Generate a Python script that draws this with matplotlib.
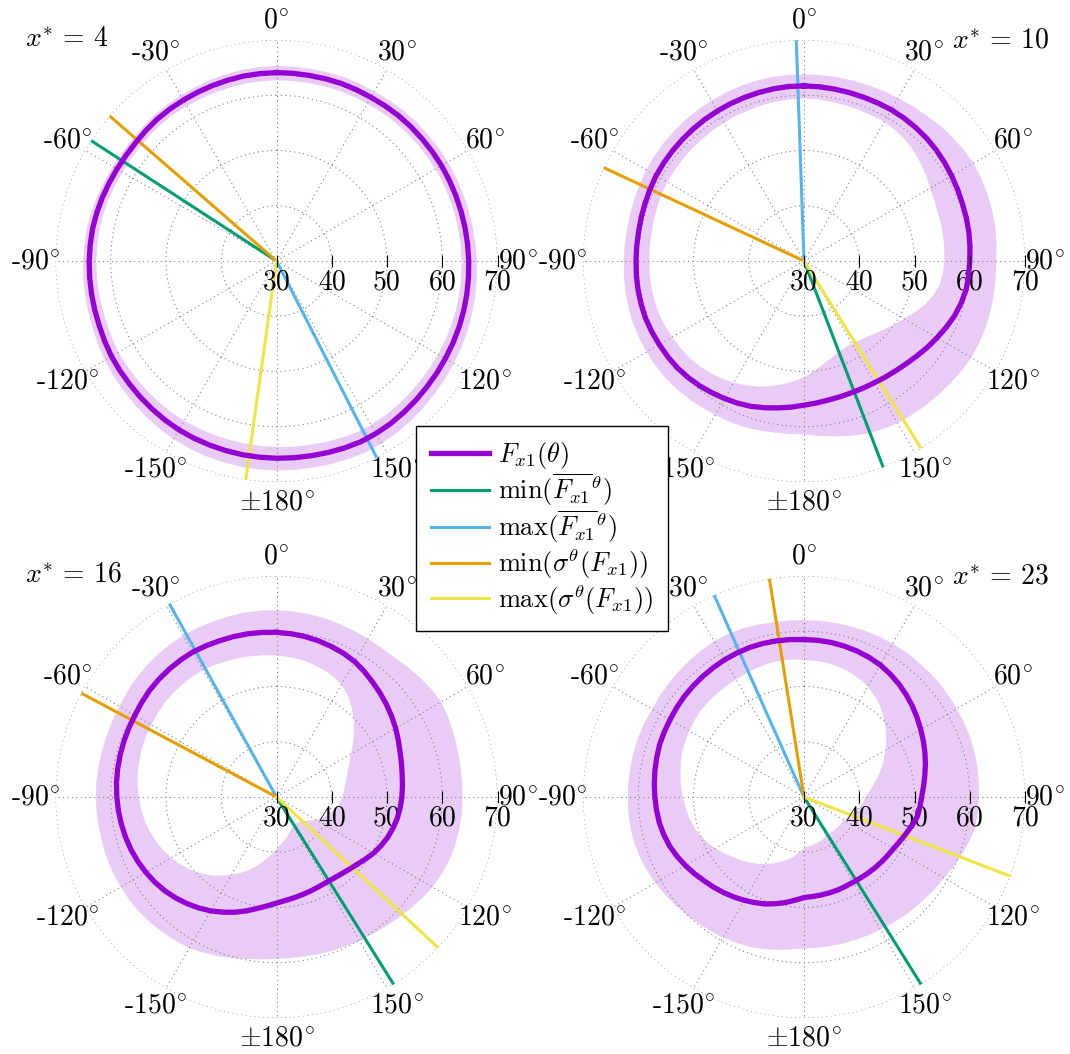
import numpy as np
import matplotlib
matplotlib.use('Agg')
import matplotlib.pyplot as plt
from matplotlib.lines import Line2D

plt.rcParams['font.family'] = ['cmr10', 'DejaVu Serif']
plt.rcParams['mathtext.fontset'] = 'cm'
plt.rcParams['axes.unicode_minus'] = False
plt.rcParams['font.size'] = 20

# angle grid (deg, clockwise from north), 5 deg steps
theta_deg = np.arange(0, 360, 5)

x_star = [4, 10, 16, 23]

# F_x1(theta) mean and std, one pair per x*
mean_x4 = [64.1, 64.1, 64.1, 64.15, 64.2, 64.2, 64.2, 64.27, 64.35, 64.38, 64.4, 64.45,
           64.5, 64.52, 64.55, 64.6, 64.65, 64.72, 64.8, 64.88, 64.97, 65.06, 65.15, 65.22,
           65.3, 65.4, 65.5, 65.65, 65.8, 65.95, 66.05, 66.1, 66.0, 65.9, 65.8, 65.75,
           65.7, 65.65, 65.6, 65.52, 65.45, 65.38, 65.3, 65.15, 65.0, 64.85, 64.7, 64.6,
           64.5, 64.32, 64.15, 64.07, 64.0, 63.95, 63.9, 63.85, 63.8, 63.68, 63.55, 63.42,
           63.32, 63.28, 63.3, 63.42, 63.55, 63.6, 63.65, 63.72, 63.8, 63.9, 64.0, 64.05]
std_x4 = [1.3, 1.3, 1.3, 1.3, 1.3, 1.3, 1.3, 1.3, 1.3, 1.3, 1.3, 1.3,
          1.3, 1.3, 1.3, 1.3, 1.32, 1.35, 1.38, 1.42, 1.46, 1.5, 1.55, 1.6,
          1.65, 1.7, 1.75, 1.8, 1.85, 1.9, 1.94, 1.98, 2.02, 2.05, 2.08, 2.1,
          2.12, 2.13, 2.13, 2.1, 2.06, 2.0, 1.93, 1.85, 1.77, 1.68, 1.6, 1.52,
          1.45, 1.4, 1.35, 1.3, 1.26, 1.22, 1.2, 1.17, 1.14, 1.1, 1.07, 1.04,
          1.02, 1.0, 0.99, 1.0, 1.03, 1.07, 1.12, 1.17, 1.22, 1.26, 1.28, 1.3]

mean_x10 = [61.7, 61.65, 61.6, 61.57, 61.55, 61.57, 61.6, 61.57, 61.5, 61.4, 61.25, 61.05,
            60.85, 60.67, 60.5, 60.4, 60.3, 60.15, 60.0, 59.93, 59.8, 59.45, 59.0, 58.4,
            57.8, 57.25, 56.7, 56.25, 55.9, 55.65, 55.45, 55.37, 55.35, 55.42, 55.55, 55.8,
            56.1, 56.55, 57.0, 57.5, 58.0, 58.4, 58.75, 59.1, 59.45, 59.75, 60.0, 60.13,
            60.25, 60.38, 60.5, 60.5, 60.5, 60.45, 60.4, 60.4, 60.4, 60.5, 60.6, 60.75,
            60.9, 60.98, 61.05, 61.12, 61.2, 61.28, 61.35, 61.43, 61.5, 61.58, 61.65, 61.7]
std_x10 = [2.2, 2.2, 2.3, 2.35, 2.4, 2.45, 2.5, 2.7, 2.95, 3.35, 3.75, 4.15,
           4.55, 4.7, 4.8, 4.8, 4.8, 4.75, 4.7, 4.8, 5.0, 5.4, 5.9, 6.5,
           7.05, 7.4, 7.7, 7.95, 8.15, 8.25, 8.3, 8.1, 7.8, 7.25, 6.6, 5.9,
           5.2, 4.8, 4.45, 4.15, 3.9, 3.65, 3.4, 3.2, 3.05, 2.95, 2.85, 2.78,
           2.7, 2.6, 2.5, 2.45, 2.4, 2.35, 2.3, 2.28, 2.25, 2.22, 2.2, 2.2,
           2.22, 2.25, 2.27, 2.28, 2.3, 2.3, 2.3, 2.3, 2.3, 2.28, 2.25, 2.22]

mean_x16 = [59.8, 59.67, 59.5, 59.27, 59.0, 58.7, 58.3, 57.72, 57.1, 56.55, 56.0, 55.45,
            54.9, 54.33, 53.8, 53.42, 53.1, 52.88, 52.7, 52.47, 52.2, 51.83, 51.4, 50.87,
            50.3, 49.62, 49.0, 48.55, 48.2, 47.98, 47.9, 47.95, 48.1, 48.28, 48.5, 48.8,
            49.2, 49.8, 50.5, 51.35, 52.2, 53.0, 53.8, 54.52, 55.2, 55.82, 56.4, 56.88,
            57.3, 57.67, 58.0, 58.27, 58.5, 58.72, 58.9, 59.07, 59.2, 59.3, 59.4, 59.5,
            59.6, 59.8, 60.0, 60.12, 60.2, 60.27, 60.3, 60.2, 60.1, 60.05, 60.0, 59.9]
std_x16 = [4.1, 4.15, 4.2, 4.3, 4.4, 4.55, 4.8, 5.3, 6.0, 6.9, 7.8, 8.7,
           9.5, 9.9, 10.2, 10.4, 10.6, 10.75, 10.9, 11.1, 11.3, 11.55, 11.8, 12.0,
           12.2, 12.32, 12.4, 12.38, 12.3, 12.17, 12.0, 11.72, 11.4, 11.05, 10.7, 10.35,
           10.0, 9.6, 9.2, 8.8, 8.4, 8.05, 7.7, 7.25, 6.8, 6.4, 6.0, 5.65,
           5.3, 5.0, 4.7, 4.45, 4.2, 4.05, 3.9, 3.75, 3.6, 3.5, 3.4, 3.37,
           3.35, 3.37, 3.4, 3.45, 3.5, 3.55, 3.6, 3.7, 3.8, 3.9, 4.0, 4.05]

mean_x23 = [58.5, 58.47, 58.4, 58.27, 58.1, 57.88, 57.6, 57.18, 56.7, 56.17, 55.6, 55.0,
            54.4, 53.85, 53.3, 52.75, 52.2, 51.72, 51.3, 51.05, 50.8, 50.2, 49.6, 49.1,
            48.7, 48.48, 48.3, 48.13, 48.0, 47.88, 47.8, 47.83, 47.9, 47.95, 48.0, 48.08,
            48.2, 48.75, 49.4, 50.0, 50.6, 51.1, 51.6, 52.1, 52.6, 53.1, 53.6, 54.2,
            54.8, 55.37, 55.9, 56.28, 56.6, 56.8, 57.0, 57.2, 57.4, 57.6, 57.8, 57.9,
            58.0, 58.15, 58.3, 58.4, 58.5, 58.6, 58.7, 58.75, 58.8, 58.77, 58.7, 58.6]
std_x23 = [3.6, 3.65, 3.7, 3.85, 4.0, 4.25, 4.5, 4.9, 5.3, 5.85, 6.4, 6.95,
           7.5, 8.05, 8.6, 9.1, 9.6, 9.95, 10.3, 10.45, 10.6, 10.65, 10.7, 10.6,
           10.5, 10.35, 10.2, 10.1, 10.0, 9.9, 9.8, 9.65, 9.5, 9.4, 9.3, 9.2,
           9.1, 8.85, 8.6, 8.4, 8.2, 7.95, 7.7, 7.45, 7.2, 7.0, 6.8, 6.55,
           6.3, 6.05, 5.8, 5.6, 5.4, 5.2, 5.0, 4.8, 4.6, 4.4, 4.2, 4.05,
           3.9, 3.85, 3.8, 3.85, 3.9, 3.95, 4.0, 3.9, 3.8, 3.65, 3.5, 3.55]

# angles (deg) of the extremes, one per x*
min_mean_deg = [-57, 159, 148, 148]
max_mean_deg = [153, -2, -29, -24]
min_std_deg = [-49, -65, -62, -9]
max_std_deg = [-172, 148, 133, 111]

theta_ticks = [0, 30, 60, 90, 120, 150, 180, 210, 240, 270, 300, 330]
theta_labels = [r'$0^{\!\circ}$', r'$30^{\!\circ}$', r'$60^{\!\circ}$', r'$90^{\!\circ}$',
                r'$120^{\!\circ}$', r'$150^{\!\circ}$', r'$\pm180^{\!\circ}$',
                r'-$150^{\!\circ}$', r'-$120^{\!\circ}$', r'-$90^{\!\circ}$',
                r'-$60^{\!\circ}$', r'-$30^{\!\circ}$']
r_ticks = [30, 40, 50, 60, 70]

means = [mean_x4, mean_x10, mean_x16, mean_x23]
stds = [std_x4, std_x10, std_x16, std_x23]

purple = '#9400D3'
c_min_mean = '#009E73'
c_max_mean = '#56B4E9'
c_min_std = '#E69F00'
c_max_std = '#F0E442'

W, H = 1070, 1054
fig = plt.figure(figsize=(W / 100, H / 100), dpi=100)

centers = [(276.5, 261), (804, 261), (276.5, 797), (804, 797)]
rad = 221

th = np.deg2rad(np.append(theta_deg, 360))
for i in range(4):
    cx, cy = centers[i]
    ax = fig.add_axes([(cx - rad) / W, 1 - (cy + rad) / H, 2 * rad / W, 2 * rad / H],
                      projection='polar')
    ax.set_theta_zero_location('N')
    ax.set_theta_direction(-1)

    m = np.append(means[i], means[i][0])
    s = np.append(stds[i], stds[i][0])
    ax.fill_between(th, m - s, m + s, color=purple, alpha=0.2, lw=0, zorder=1)
    ax.plot(th, m, color=purple, lw=3.8, zorder=4, solid_joinstyle='round')

    for ang, col in [(min_mean_deg[i], c_min_mean), (max_mean_deg[i], c_max_mean),
                     (min_std_deg[i], c_min_std), (max_std_deg[i], c_max_std)]:
        t = np.deg2rad(ang)
        ax.plot([t, t], [30, 70], color=col, lw=2.2, zorder=3)

    ax.set_ylim(30, 70)
    ax.set_thetagrids(theta_ticks, theta_labels)
    ax.set_rgrids([40, 50, 60, 70], labels=['', '', '', ''])
    ax.grid(True, color='0.5', linestyle=(0, (1, 3)), linewidth=0.8)
    ax.spines['polar'].set_visible(False)
    ax.tick_params(axis='x', pad=4)
    ax.tick_params(axis='y', length=0)

    # radial tick marks and labels along the 90 deg spoke
    ax.plot([np.pi / 2] * len(r_ticks), r_ticks, linestyle='none', marker='|',
            markersize=9, markeredgewidth=0.8, color='k', zorder=5, clip_on=False)
    for r in r_ticks:
        ax.annotate(str(r), xy=(np.pi / 2, r), xytext=(0, -6), textcoords='offset points',
                    ha='center', va='top', fontsize=20, annotation_clip=False)

    lab = r'$x^{*}\,=\,%d$' % x_star[i]
    if i % 2 == 0:
        fig.text(25 / W, 1 - (cy - 215) / H, lab, ha='left', va='baseline', fontsize=20)
    else:
        fig.text(1049 / W, 1 - (cy - 214) / H, lab, ha='right', va='baseline', fontsize=20)

handles = [Line2D([], [], color=purple, lw=3.8),
           Line2D([], [], color=c_min_mean, lw=2.2),
           Line2D([], [], color=c_max_mean, lw=2.2),
           Line2D([], [], color=c_min_std, lw=2.2),
           Line2D([], [], color=c_max_std, lw=2.2)]
labels = [r'$F_{x1}(\theta)$',
          r'$\min(\overline{F_{x1}}^{\theta})$',
          r'$\max(\overline{F_{x1}}^{\theta})$',
          r'$\min(\sigma^{\theta}(F_{x1}))$',
          r'$\max(\sigma^{\theta}(F_{x1}))$']
leg = fig.legend(handles, labels, loc='center', bbox_to_anchor=(542 / W, 1 - 528.5 / H),
                 fancybox=False, edgecolor='k', framealpha=1, fontsize=19,
                 handlelength=2.2, handletextpad=0.35, labelspacing=0.02,
                 borderpad=0.55, borderaxespad=0)
leg.get_frame().set_linewidth(1.0)

fig.savefig('out.png', dpi=100)
